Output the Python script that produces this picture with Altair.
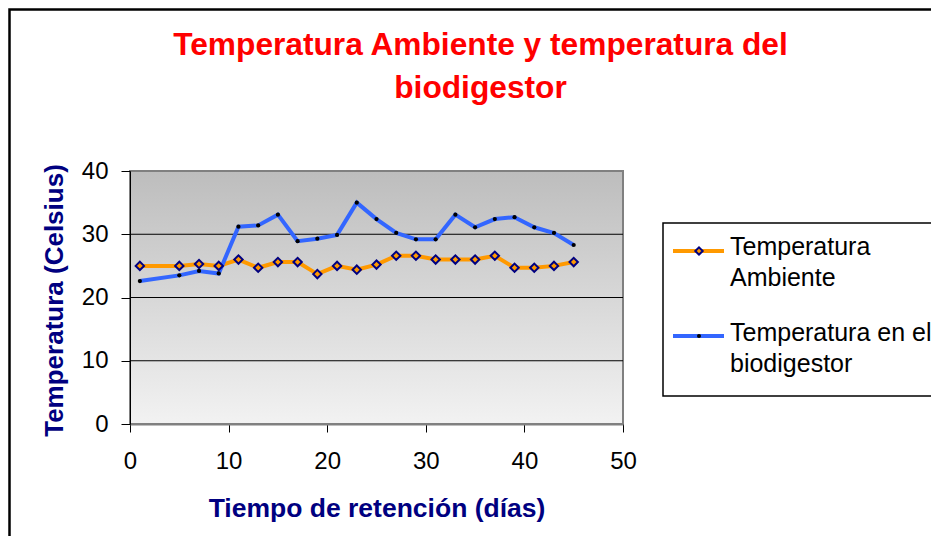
import altair as alt
import pandas as pd

# ---- data ----
dias = [1, 5, 7, 9, 11, 13, 15, 17, 19, 21, 23, 25, 27, 29, 31, 33, 35, 37, 39, 41, 43, 45]
temp_ambiente = [25.0, 25.0, 25.3, 25.0, 26.0, 24.7, 25.6, 25.6, 23.7, 25.0, 24.4,
                 25.2, 26.6, 26.6, 26.0, 26.0, 26.0, 26.6, 24.7, 24.7, 25.0, 25.6]
temp_biodigestor = [22.6, 23.5, 24.2, 23.8, 31.2, 31.4, 33.1, 28.9, 29.3, 29.9, 35.0,
                    32.4, 30.2, 29.2, 29.2, 33.1, 31.1, 32.4, 32.7, 31.1, 30.2, 28.3]
series = ["Temperatura Ambiente", "Temperatura en el biodigestor"]
legend_lines = [["Temperatura", "Ambiente"], ["Temperatura en el", "biodigestor"]]
x_ticks = [0, 10, 20, 30, 40, 50]
y_ticks = [0, 10, 20, 30, 40]
y_grid = [10, 20, 30]
titulo = ["Temperatura Ambiente y temperatura del", "biodigestor"]

# ---- styling ----
ORANGE = "#FF9900"
BLUE = "#3366FF"
NAVY = "#000080"
FONT = "Liberation Sans"
W, H = 493, 253
PAD_L, PAD_T = 122, 163

df = pd.DataFrame({
    "dia": dias + dias,
    "temp": temp_ambiente + temp_biodigestor,
    "serie": [series[0]] * len(dias) + [series[1]] * len(dias),
})

x_enc = alt.X("dia:Q",
              scale=alt.Scale(domain=[0, 50], nice=False),
              axis=alt.Axis(values=x_ticks, title="Tiempo de retención (días)",
                            grid=False, tickSize=8, labelPadding=17, zindex=1,
                            labelFlush=False,
                            domainColor="#808080", domainWidth=2,
                            titleFontSize=26.5,
                            titleX=W / 2, titleY=92, titleBaseline="alphabetic",
                            titleAlign="center"))
y_enc = alt.Y("temp:Q",
              scale=alt.Scale(domain=[0, 40], nice=False),
              axis=alt.Axis(values=y_ticks, title="Temperatura (Celsius)",
                            grid=False, tickSize=9, labelPadding=13, zindex=1,
                            labelFlush=False,
                            domainColor="black",
                            titleAngle=270, titleX=-68, titleY=129,
                            titleBaseline="alphabetic", titleAlign="center"))

one = alt.Data(values=[{"k": 0}])

gradient = alt.LinearGradient(
    gradient="linear", x1=0, y1=0, x2=0, y2=1,
    stops=[alt.GradientStop(color="#BDBDBD", offset=0),
           alt.GradientStop(color="#F2F2F2", offset=1)])

outer_border = alt.Chart(one).mark_rect(fill="transparent", stroke="black", strokeWidth=2.5).encode(
    x=alt.value(-PAD_L + 1.5), x2=alt.value(2000), y=alt.value(-PAD_T + 1.5), y2=alt.value(2000))

plot_bg = alt.Chart(one).mark_rect(fill=gradient, stroke="#808080", strokeWidth=2).encode(
    x=alt.value(0), x2=alt.value(W), y=alt.value(0), y2=alt.value(H))

grid = alt.Chart(pd.DataFrame({"g": y_grid})).mark_rule(color="black", strokeWidth=1).encode(
    y=alt.Y("g:Q", scale=alt.Scale(domain=[0, 40], nice=False)))

lines = alt.Chart(df).mark_line(strokeWidth=4).encode(
    x=x_enc, y=y_enc,
    color=alt.Color("serie:N", scale=alt.Scale(domain=series, range=[ORANGE, BLUE]), legend=None))

pts_amb = alt.Chart(df).transform_filter(alt.datum.serie == series[0]).mark_point(
    shape="diamond", fill=ORANGE, stroke=NAVY, strokeWidth=2, size=70, opacity=1, fillOpacity=1
).encode(x="dia:Q", y="temp:Q")

pts_bio = alt.Chart(df).transform_filter(alt.datum.serie == series[1]).mark_point(
    shape="circle", filled=True, color="black", size=18, opacity=1
).encode(x="dia:Q", y="temp:Q")

# ---- legend drawn by hand (multi-line labels) ----
LX0 = 533
legend_box = alt.Chart(one).mark_rect(fill="white", stroke="black", strokeWidth=1.5).encode(
    x=alt.value(LX0), x2=alt.value(2000), y=alt.value(52), y2=alt.value(225))

legend_layers = [legend_box]
entry_line_y = [80, 165]
entry_text_y = [76, 162]
colors = [ORANGE, BLUE]
for i in range(2):
    legend_layers.append(alt.Chart(one).mark_rule(strokeWidth=4, color=colors[i]).encode(
        x=alt.value(LX0 + 10), x2=alt.value(LX0 + 61), y=alt.value(entry_line_y[i])))
    if i == 0:
        legend_layers.append(alt.Chart(one).mark_point(
            shape="diamond", fill=ORANGE, stroke=NAVY, strokeWidth=2, size=55, opacity=1, fillOpacity=1
        ).encode(x=alt.value(LX0 + 36), y=alt.value(entry_line_y[i])))
    else:
        legend_layers.append(alt.Chart(one).mark_point(
            shape="circle", filled=True, color="black", size=16, opacity=1
        ).encode(x=alt.value(LX0 + 36), y=alt.value(entry_line_y[i])))
    legend_layers.append(alt.Chart(one).mark_text(
        align="left", baseline="middle", font=FONT, fontSize=25, lineHeight=31, color="black"
    ).encode(x=alt.value(LX0 + 67), y=alt.value(entry_text_y[i]), text=alt.value(legend_lines[i])))

chart = alt.layer(outer_border, plot_bg, grid, lines, pts_amb, pts_bio, *legend_layers).properties(
    width=W, height=H,
    padding={"left": PAD_L, "top": PAD_T, "right": 923 - PAD_L - W, "bottom": 528 - PAD_T - H},
    autosize=alt.AutoSizeParams(type="none"),
    background="white",
    title=alt.TitleParams(text=titulo, font=FONT, fontSize=31.7, fontWeight="bold", color="#FF0000",
                          anchor="middle", dx=104, dy=116, lineHeight=43, offset=20),
).configure_view(strokeOpacity=0).configure_axis(
    labelFont=FONT, labelFontSize=24, labelColor="black",
    tickColor="black", tickWidth=1, domainWidth=1,
    titleFont=FONT, titleFontSize=26, titleFontWeight="bold", titleColor=NAVY,
)

chart.save("out.html", embed_options={"renderer": "svg", "actions": False})
